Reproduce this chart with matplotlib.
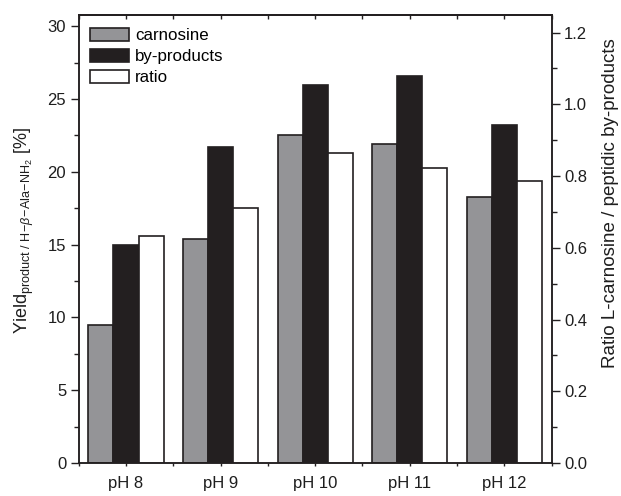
import numpy as np
import matplotlib
matplotlib.use("Agg")
import matplotlib.pyplot as plt
from matplotlib.ticker import MultipleLocator, FormatStrFormatter

plt.rcParams['font.family'] = ['Liberation Sans', 'DejaVu Sans']
plt.rcParams['mathtext.fontset'] = 'custom'
plt.rcParams['mathtext.rm'] = 'Liberation Sans'
plt.rcParams['mathtext.it'] = 'Liberation Sans:italic'
plt.rcParams['mathtext.bf'] = 'Liberation Sans:bold'

categories = ['pH 8', 'pH 9', 'pH 10', 'pH 11', 'pH 12']
carnosine = [9.5, 15.4, 22.5, 21.9, 18.3]
by_products = [15.0, 21.7, 26.0, 26.6, 23.2]
ratio = [0.633, 0.711, 0.865, 0.823, 0.787]

gray = '#949497'
dark = '#231f20'
text_c = '#1e1e1e'

fig = plt.figure(figsize=(6.21, 4.96), dpi=100)
ax = fig.add_axes([0.1267, 0.0665, 0.7617, 0.9039])
ax2 = ax.twinx()

x = np.arange(1, len(categories) + 1)
w = 0.265

b1 = ax.bar(x - w, carnosine, w, color=gray, edgecolor=dark, linewidth=1.2, label='carnosine')
b2 = ax.bar(x, by_products, w, color=dark, edgecolor=dark, linewidth=1.2, label='by-products')
b3 = ax2.bar(x + w, ratio, w, color='white', edgecolor=dark, linewidth=1.2, label='ratio')

ax.set_xlim(0.5, 5.5)
ax.set_ylim(0, 30.8)
ax2.set_ylim(0, 1.25)

ax.set_xticks(x)
ax.set_xticklabels(categories)
ax.xaxis.set_minor_locator(MultipleLocator(0.5))
ax.yaxis.set_major_locator(MultipleLocator(5))
ax.yaxis.set_minor_locator(MultipleLocator(2.5))
ax2.yaxis.set_major_locator(MultipleLocator(0.2))
ax2.yaxis.set_minor_locator(MultipleLocator(0.1))
ax2.yaxis.set_major_formatter(FormatStrFormatter('%.1f'))

for a in (ax, ax2):
    for s in a.spines.values():
        s.set_linewidth(1.1)
        s.set_color(dark)

ax.tick_params(axis='y', which='major', direction='out', length=6, width=1.0,
               labelsize=12, pad=3, colors=dark, labelcolor=text_c)
ax.tick_params(axis='y', which='minor', direction='out', length=3.5, width=1.0, colors=dark)
ax.tick_params(axis='x', which='both', direction='out', length=2.5, width=1.0,
               labelsize=12, pad=7, colors=dark, labelcolor=text_c, top=False)
ax2.tick_params(axis='y', which='major', direction='out', length=6, width=1.0,
                labelsize=12, pad=3, colors=dark, labelcolor=text_c)
ax2.tick_params(axis='y', which='minor', direction='out', length=3.5, width=1.0, colors=dark)

# inward ticks along the top edge
top = ax.secondary_xaxis('top')
top.set_xticks(np.arange(0.5, 5.51, 0.5))
top.tick_params(direction='in', length=3, width=1.0, labeltop=False, colors=dark)
top.spines['top'].set_linewidth(1.1)

ax.set_ylabel(r'Yield$_{\mathrm{product\ /\ H\!-\!}\mathit{\beta}\mathrm{\!-\!Ala\!-\!NH_2}}$ [%]',
              fontsize=13, color=text_c)
ax.yaxis.set_label_coords(-0.09, 0.52)
ax2.set_ylabel('Ratio L-carnosine / peptidic by-products', fontsize=13.5, color=text_c)
ax2.yaxis.set_label_coords(1.106, 0.58)

ax2.legend(handles=[b1, b2, b3], loc='upper left', frameon=False, fontsize=12.2,
           handlelength=2.3, handleheight=0.75, handletextpad=0.35, labelspacing=0.35,
           borderaxespad=0.4, bbox_to_anchor=(-0.005, 1.0))

fig.savefig('out.png', dpi=100)
